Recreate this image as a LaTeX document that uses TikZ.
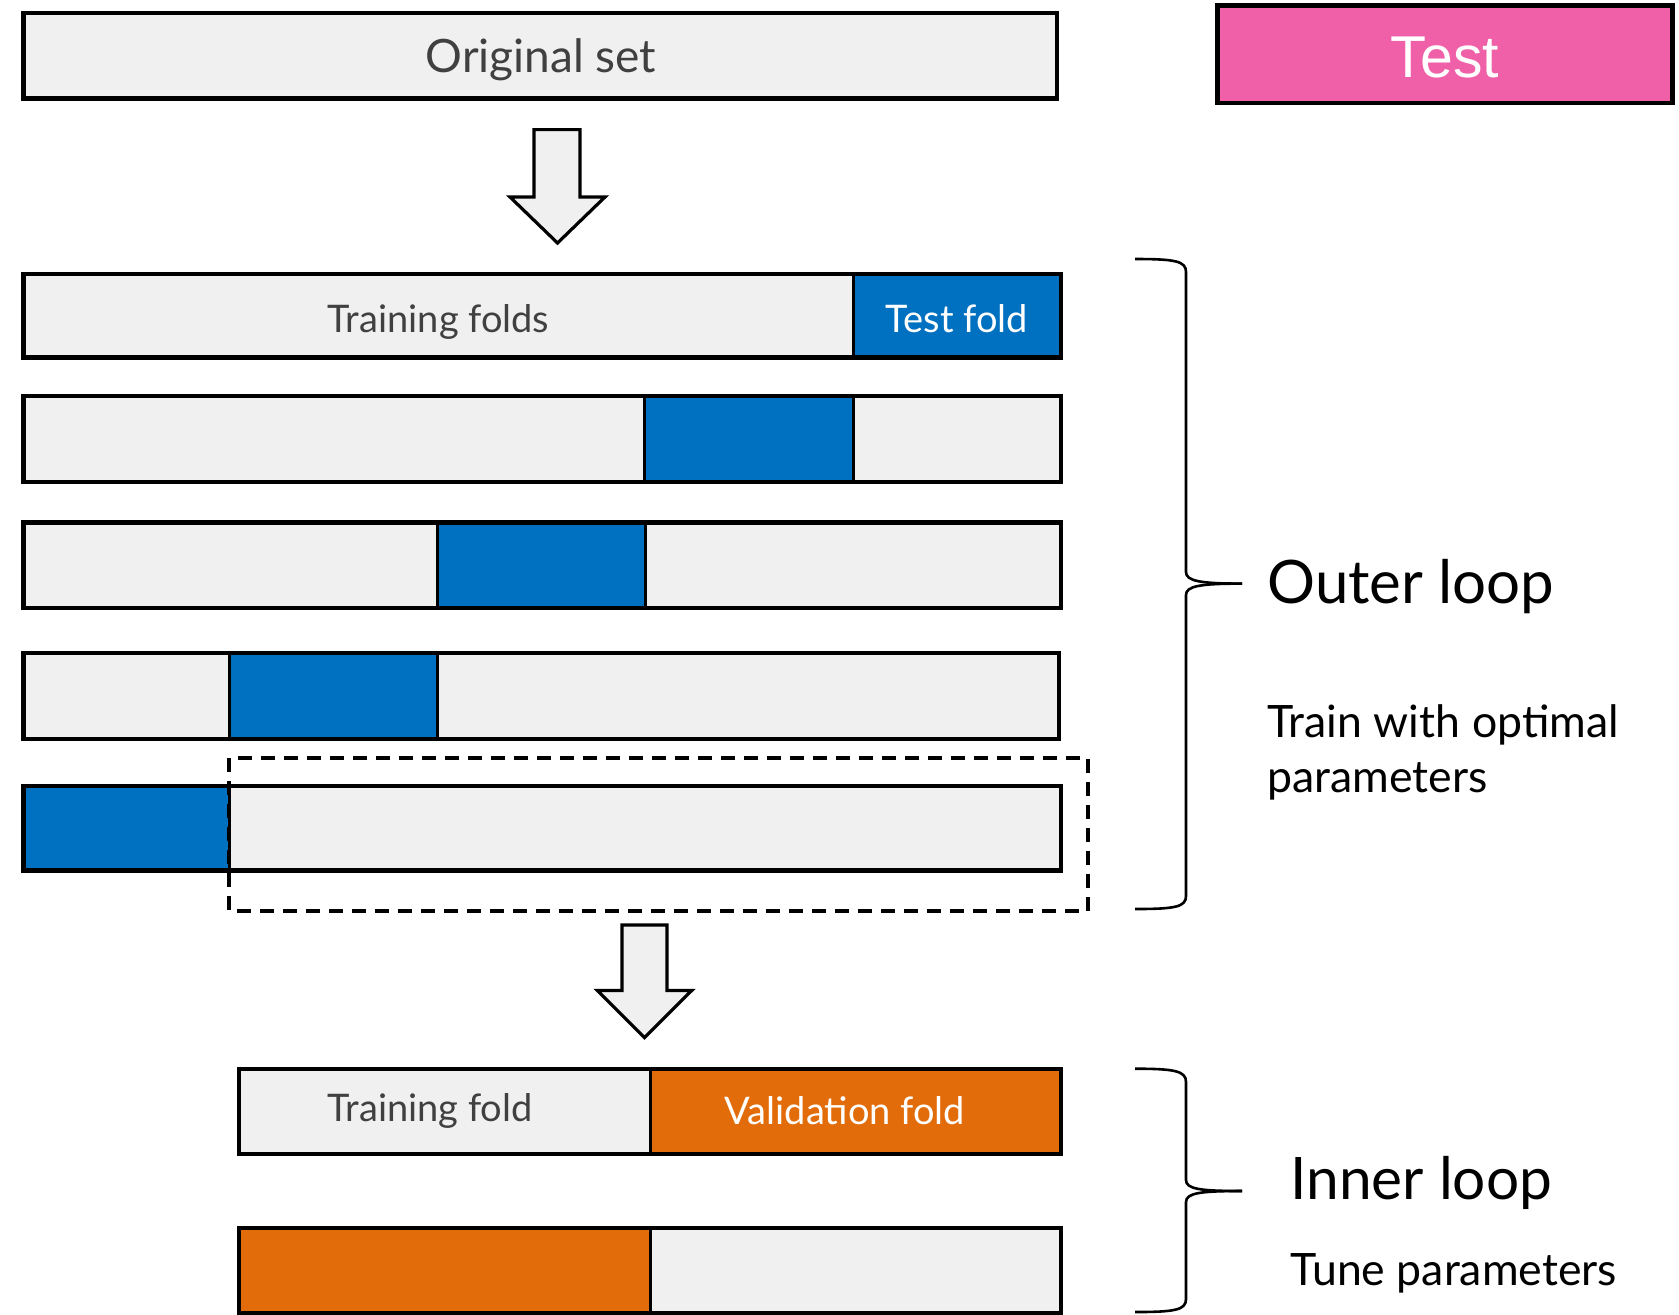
\documentclass[tikz,border=0pt]{standalone}
\usepackage{fontspec}
\setmainfont{Lato}
\newfontfamily\helv{Liberation Sans}
\definecolor{lightbox}{HTML}{F0F0F0}
\definecolor{foldblue}{HTML}{0070C0}
\definecolor{foldorange}{HTML}{E36C0A}
\definecolor{testpink}{HTML}{F060A8}
\definecolor{labelgray}{HTML}{404040}
\newcommand\seg[6]{\node[segbox, fill=#6, minimum width={(#4-#2)*0.5pt}, minimum height={(#5-#3)*0.5pt}, anchor=north west] (#1) at (#2,#3) {};}
\begin{document}
\begin{tikzpicture}[x=0.5pt,y=-0.5pt,
  segbox/.style={draw=black, line width=1.5pt, inner sep=0pt, outer sep=0pt},
  frame/.style={draw=black, line width=2.2pt},
  blockarrow/.style={draw=black, fill=lightbox, line width=1.6pt, line join=miter},
  bracepath/.style={draw=black, line width=1.3pt},
  foldtxt/.style={anchor=base, inner sep=0pt, text=labelgray},
  whitetxt/.style={anchor=base, inner sep=0pt, text=white},
  sidetxt/.style={anchor=base west, inner sep=0pt, text=black}]
\useasboundingbox (0,0) rectangle (1679,1314);
% original set
\seg{orig}{23.6}{12.8}{1057}{98.5}{lightbox}
\draw[frame] (orig.north west) rectangle (orig.south east);
\node[foldtxt, font=\fontsize{23}{27}\selectfont] (origtxt) at (541,72.8) {Original set};
% test
\seg{test}{1217.5}{5.4}{1672.6}{102.8}{testpink}
\draw[frame] (test.north west) rectangle (test.south east);
\node[whitetxt, font=\helv\fontsize{29.5}{33}\selectfont] (testtxt) at (1445,77) {Test};
% arrow 1
\draw[blockarrow] (534,129.6) -- (580,129.6) -- (580,197) -- (605,197) -- (557.5,243) -- (510,197) -- (534,197) -- cycle;
% row 1
\seg{ra}{23.6}{274}{853.4}{357.6}{lightbox}
\seg{rb}{853.4}{274}{1061}{357.6}{foldblue}
\draw[frame] (ra.north west) rectangle (rb.south east);
\node[foldtxt, font=\fontsize{19}{23}\selectfont] (trtxt) at (438.5,332) {Training folds};
\node[whitetxt, font=\fontsize{19}{23}\selectfont] (tftxt) at (957,332) {Test fold};
% row 2
\seg{sa}{23.6}{396}{644.6}{482}{lightbox}
\seg{sb}{644.6}{396}{853.4}{482}{foldblue}
\seg{sc}{853.4}{396}{1061}{482}{lightbox}
\draw[frame] (sa.north west) rectangle (sc.south east);
% row 3
\seg{ta}{23.6}{522.5}{437}{608}{lightbox}
\seg{tb}{437}{522.5}{645.7}{608}{foldblue}
\seg{tc}{645.7}{522.5}{1061}{608}{lightbox}
\draw[frame] (ta.north west) rectangle (tc.south east);
% row 4
\seg{ua}{23.6}{653}{229}{739}{lightbox}
\seg{ub}{229}{653}{437}{739}{foldblue}
\seg{uc}{437}{653}{1059}{739}{lightbox}
\draw[frame] (ua.north west) rectangle (uc.south east);
% row 5
\seg{va}{23.6}{786}{229}{870.6}{foldblue}
\seg{vb}{229}{786}{1061}{870.6}{lightbox}
\draw[frame] (va.north west) rectangle (vb.south east);
% dashed selection
\draw[black, line width=1.9pt, dash pattern=on 7pt off 4.5pt] (229,758) rectangle (1088,911);
% arrow 2
\draw[blockarrow] (622,925) -- (667,925) -- (667,990.5) -- (691.7,990.5) -- (644.5,1037.6) -- (597.5,990.5) -- (622,990.5) -- cycle;
% inner row 1
\seg{wa}{238.8}{1068.7}{650}{1154}{lightbox}
\seg{wb}{650}{1068.7}{1061}{1154}{foldorange}
\draw[frame] (wa.north west) rectangle (wb.south east);
\node[foldtxt, font=\fontsize{19}{23}\selectfont] (trftxt) at (430,1121) {Training fold};
\node[whitetxt, font=\fontsize{19}{23}\selectfont] (valtxt) at (845,1124) {Validation fold};
% inner row 2
\seg{xa}{238.8}{1228}{650}{1313}{foldorange}
\seg{xb}{650}{1228}{1061}{1313}{lightbox}
\draw[frame] (xa.north west) rectangle (xb.south east);
% outer brace
\draw[bracepath] (1135,259) .. controls (1175,259) and (1186,261) .. (1186,272) -- (1186,572) .. controls (1186,581) and (1200,583.6) .. (1242,583.6);
\draw[bracepath] (1242,583.6) .. controls (1200,583.6) and (1186,586) .. (1186,595) -- (1186,896) .. controls (1186,907) and (1175,909) .. (1135,909);
% inner brace
\draw[bracepath] (1135,1068.7) .. controls (1175,1068.7) and (1186,1071) .. (1186,1082) -- (1186,1180) .. controls (1186,1189) and (1200,1191) .. (1242,1191);
\draw[bracepath] (1242,1191) .. controls (1200,1191) and (1186,1193) .. (1186,1202) -- (1186,1299) .. controls (1186,1310) and (1175,1312) .. (1135,1312);
% side labels
\node[sidetxt, font=\fontsize{30}{34}\selectfont] (outer) at (1267,603) {Outer loop};
\node[sidetxt, font=\fontsize{22.3}{26}\selectfont] (train1) at (1267,737) {Train with optimal};
\node[sidetxt, font=\fontsize{22.3}{26}\selectfont] (train2) at (1267,792) {parameters};
\node[sidetxt, font=\fontsize{29.3}{33}\selectfont] (inner) at (1290,1199) {Inner loop};
\node[sidetxt, font=\fontsize{22.3}{26}\selectfont] (tune) at (1290,1285) {Tune parameters};
\end{tikzpicture}
\end{document}
